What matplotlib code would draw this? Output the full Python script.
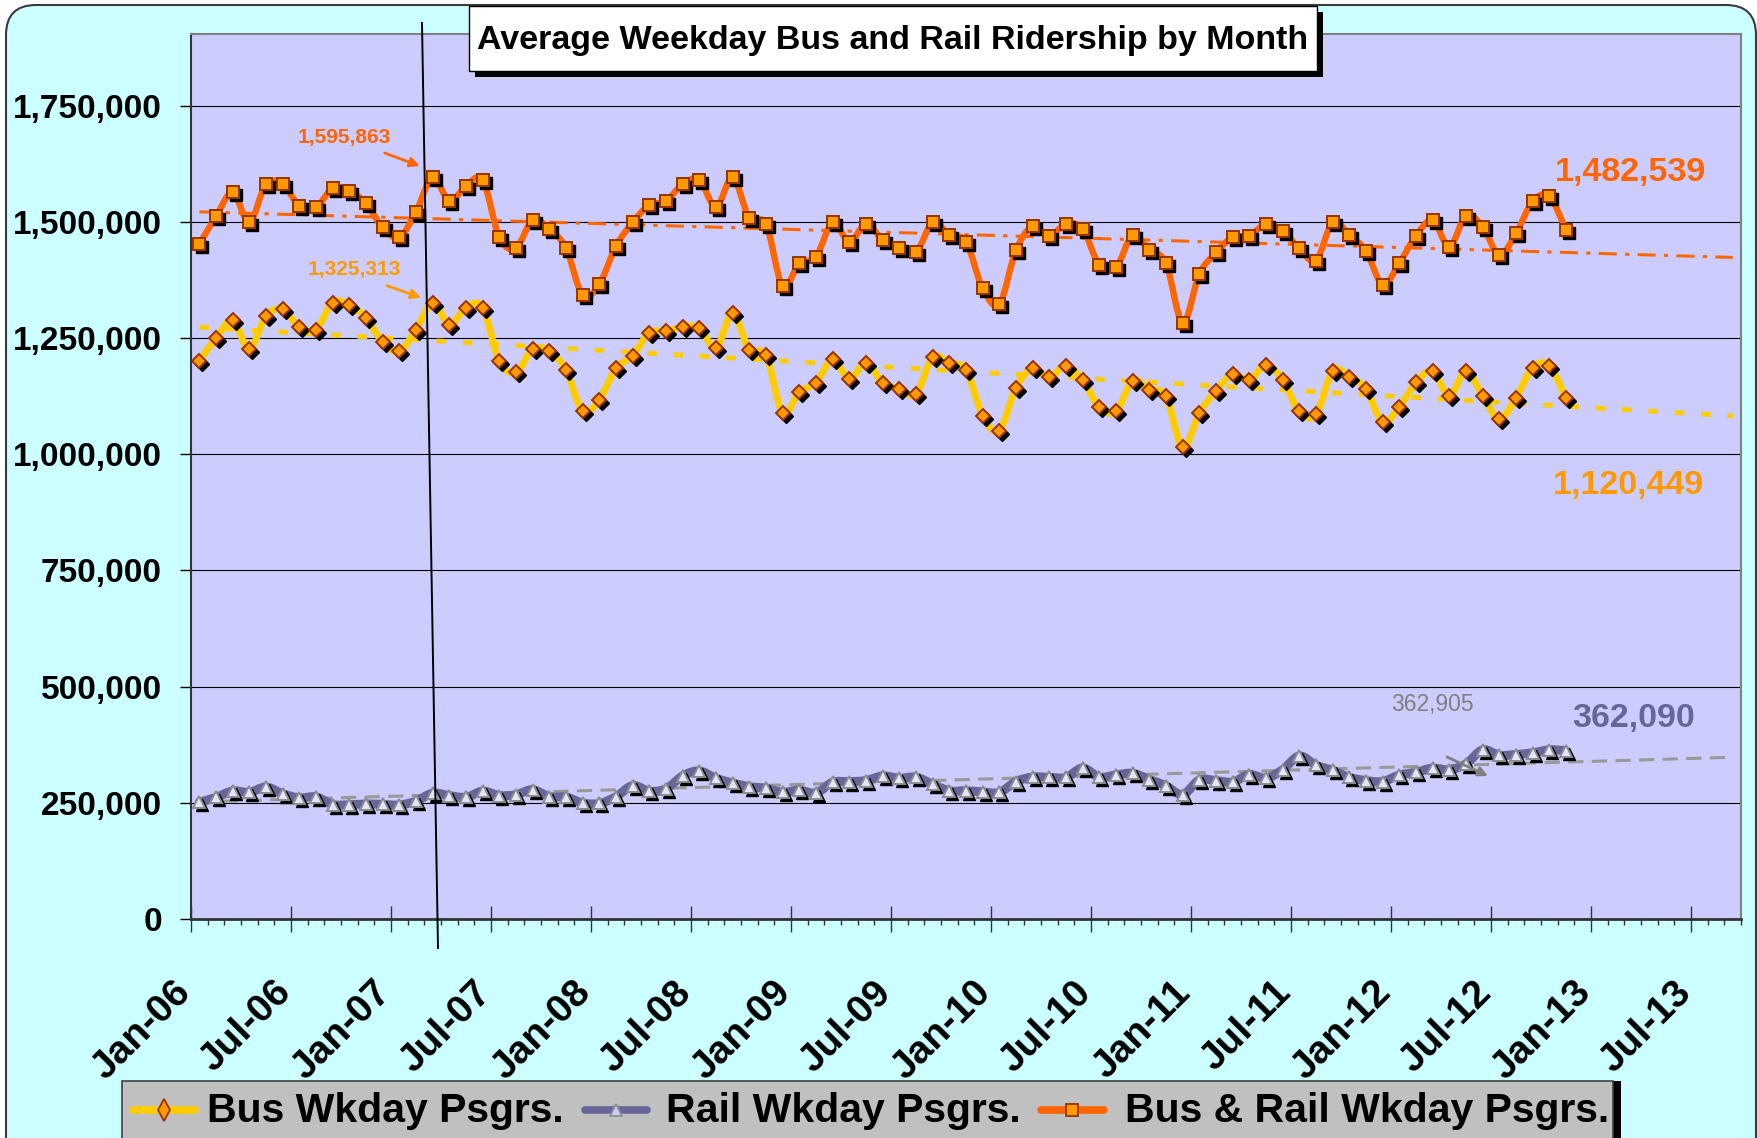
import numpy as np
import matplotlib
matplotlib.use('Agg')
import matplotlib.pyplot as plt
from matplotlib.patches import Rectangle, FancyBboxPatch, PathPatch
from matplotlib.path import Path
from matplotlib.lines import Line2D
from matplotlib.transforms import IdentityTransform, offset_copy

plt.rcParams['font.family'] = ['Liberation Sans', 'DejaVu Sans']
plt.rcParams['lines.scale_dashes'] = False

# ---------------- data ----------------
title = "Average Weekday Bus and Rail Ridership by Month"
tick_labels = ["Jan-06", "Jul-06", "Jan-07", "Jul-07", "Jan-08", "Jul-08",
               "Jan-09", "Jul-09", "Jan-10", "Jul-10", "Jan-11", "Jul-11",
               "Jan-12", "Jul-12", "Jan-13", "Jul-13"]
yticks = [0, 250000, 500000, 750000, 1000000, 1250000, 1500000, 1750000]

bus = [1200700, 1250000, 1287700, 1226100, 1297100, 1311600, 1273900, 1268100,
       1326100, 1321000, 1292000, 1241300, 1221000, 1268100, 1325313, 1279000,
       1315200, 1315200, 1200700, 1176000, 1226100, 1221000, 1181100, 1092000,
       1117300, 1184700, 1211600, 1260900, 1264500, 1273200, 1271800, 1228200,
       1302900, 1223200, 1213700, 1088300, 1134000, 1153600, 1204300, 1161500,
       1197100, 1153600, 1140500, 1128900, 1208700, 1195600, 1181100, 1083200,
       1050600, 1143400, 1184700, 1165200, 1190500, 1159400, 1101400, 1092000,
       1157900, 1139100, 1124600, 1014400, 1088300, 1136200, 1171700, 1159400,
       1192000, 1159400, 1092000, 1085400, 1179000, 1166600, 1139800, 1068700,
       1101400, 1154300, 1179000, 1125300, 1179000, 1125300, 1076000, 1121000,
       1186200, 1190500, 1120449]

rail = [251300, 261500, 275400, 272500, 283900, 269400, 260500, 262700,
        246300, 245700, 247400, 246500, 245300, 253400, 270550, 265500,
        261500, 275100, 265600, 267400, 278200, 263200, 262300, 249500,
        248600, 263000, 287000, 275000, 280000, 307800, 318500, 302600,
        292500, 284700, 281300, 272600, 277100, 271100, 294300, 295500,
        297900, 307700, 302900, 305100, 289900, 275700, 275900, 273400,
        272300, 295700, 305300, 304700, 304500, 324800, 305400, 309800,
        313400, 300000, 286500, 267600, 299100, 297800, 294600, 310500,
        303000, 321200, 350600, 330700, 319600, 304700, 297800, 295800,
        309700, 315600, 324600, 320900, 333900, 363900, 352300, 353900,
        357500, 364000, 362090]

total = [1452000, 1511500, 1563100, 1498600, 1581000, 1581000, 1534400, 1530800,
         1572400, 1566700, 1539400, 1487800, 1466300, 1521500, 1595863, 1544500,
         1576700, 1590300, 1466300, 1443400, 1504300, 1484200, 1443400, 1341500,
         1365900, 1447700, 1498600, 1535900, 1544500, 1581000, 1590300, 1530800,
         1595400, 1507900, 1495000, 1360900, 1411100, 1424700, 1498600, 1457000,
         1495000, 1461300, 1443400, 1434000, 1498600, 1471300, 1457000, 1356600,
         1322900, 1439100, 1490000, 1469900, 1495000, 1484200, 1406800, 1401800,
         1471300, 1439100, 1411100, 1282000, 1387400, 1434000, 1466300, 1469900,
         1495000, 1480600, 1442600, 1416100, 1498600, 1471300, 1437600, 1364500,
         1411100, 1469900, 1503600, 1446200, 1512900, 1489200, 1428300, 1474900,
         1543700, 1554500, 1482539]

# linear trendlines (start / end)
trend_x = [0.5, 92.5]
total_trend = [1521500, 1423300]
bus_trend = [1273200, 1082500]
rail_trend = [252000, 348000]

# ---------------- figure ----------------
W, H, DPI = 1758, 1138, 100
fig = plt.figure(figsize=(W / DPI, H / DPI), dpi=DPI)
fig.patch.set_facecolor('white')


def fx(x):
    return x / W


def fy(y):
    return 1 - y / H


# rounded cyan panel
panel = FancyBboxPatch((6, -40), 1750, H - 5 + 40, boxstyle='round,pad=0,rounding_size=30',
                       transform=IdentityTransform(), fc='#CCFFFF', ec='#3a3a3a', lw=1.5, zorder=0)
fig.add_artist(panel)

ax = fig.add_axes([191 / W, 1 - 919 / H, 1550 / W, 885 / H])
ax.set_facecolor('#CCCCFF')
ax.set_xlim(0, 93)
ax.set_ylim(0, 1904000)

x = np.arange(len(bus)) + 0.5


def smooth_path(xs, ys):
    n = len(xs)
    verts = [(xs[0], ys[0])]
    codes = [Path.MOVETO]
    for i in range(n - 1):
        x0, y0 = xs[max(i - 1, 0)], ys[max(i - 1, 0)]
        x1, y1 = xs[i], ys[i]
        x2, y2 = xs[i + 1], ys[i + 1]
        x3, y3 = xs[min(i + 2, n - 1)], ys[min(i + 2, n - 1)]
        verts += [(x1 + (x2 - x0) / 6, y1 + (y2 - y0) / 6),
                  (x2 - (x3 - x1) / 6, y2 - (y3 - y1) / 6),
                  (x2, y2)]
        codes += [Path.CURVE4] * 3
    return Path(verts, codes)


shadow_tr = offset_copy(ax.transData, fig=fig, x=3, y=-3, units='dots')

series = [
    (bus, '#FFCC00', 5.0, 'D', 7.3, '#FF9900', '#993300'),
    (rail, '#666699', 6.5, '^', 9.0, '#E4E4FF', '#8C8C8C'),
    (total, '#FF6600', 4.6, 's', 8.0, '#FF9900', '#993300'),
]

# trend lines
ax.plot(trend_x, total_trend, color='#FF6600', lw=2.2, ls=(0, (13, 6, 3, 6)), zorder=2)
ax.plot(trend_x, bus_trend, color='#FFCC00', lw=3.5, ls=(0, (7, 12)), zorder=2)
ax.plot(trend_x, rail_trend, color='#999999', lw=2.2, ls=(0, (11, 6)), zorder=2)

for k, (vals, lc, lw, mk, ms, mfc, mec) in enumerate(series):
    zb = 3 + k * 3
    ax.add_patch(PathPatch(smooth_path(x, vals), fc='none', ec=lc, lw=lw,
                           capstyle='round', joinstyle='round', zorder=zb))
    ax.plot(x, vals, ls='none', marker=mk, ms=ms, mfc='black', mec='black',
            mew=1.0, transform=shadow_tr, zorder=zb + 1)
    ax.plot(x, vals, ls='none', marker=mk, ms=ms, mfc=mfc, mec=mec, mew=1.4, zorder=zb + 2)

# axes styling
ax.set_yticks(yticks, labels=[f"{v:,}" for v in yticks], fontsize=24, fontweight='bold')
ax.grid(axis='y', color='black', lw=0.8, zorder=1)
ax.set_axisbelow(True)
ax.tick_params(axis='y', direction='out', length=8, width=1, pad=13, colors='black')

major = list(range(0, 91, 6))
ax.set_xticks(major)
ax.set_xticks(np.arange(0, 94, 1), minor=True)
ax.tick_params(axis='x', which='major', direction='inout', length=18.7, width=1,
               labelbottom=False, color='#333333')
ax.tick_params(axis='x', which='minor', direction='out', length=4.3, width=1, color='#333333')
for m, lab in zip(major, tick_labels):
    ax.annotate(lab, xy=(m, 0), xycoords=('data', 'axes fraction'), xytext=(-4.0, -49),
                textcoords='offset points', rotation=45, rotation_mode='anchor',
                ha='right', va='center', fontsize=28, fontweight='bold',
                annotation_clip=False)

ax.spines['left'].set_color('#333333')
ax.spines['left'].set_linewidth(1.5)
ax.spines['bottom'].set_color('#333333')
ax.spines['bottom'].set_linewidth(2)
for s in ('top', 'right'):
    ax.spines[s].set_color('#808080')
    ax.spines[s].set_linewidth(1.5)

# title box
fig.add_artist(Rectangle((475, H - 77), 848, 65, transform=IdentityTransform(),
                         fc='black', ec='none', zorder=20))
fig.add_artist(Rectangle((469, H - 71), 848, 65, transform=IdentityTransform(),
                         fc='white', ec='black', lw=1, zorder=21))
fig.text(fx(893), fy(49.5), title, ha='center', va='baseline', fontsize=24.5,
         fontweight='bold', zorder=22)

# slanted vertical marker line
fig.add_artist(Line2D([fx(422), fx(438)], [fy(23), fy(948)], color='black', lw=1.4,
                      transform=fig.transFigure, zorder=15))

# annotations
fig.text(fx(344), fy(142.7), "1,595,863", color='#FF6600', fontsize=15,
         fontweight='bold', ha='center', va='baseline', zorder=16)
fig.text(fx(354.5), fy(275), "1,325,313", color='#FF9900', fontsize=15,
         fontweight='bold', ha='center', va='baseline', zorder=16)
fig.text(fx(1630.5), fy(181), "1,482,539", color='#FF6600', fontsize=24.5,
         fontweight='bold', ha='center', va='baseline', zorder=16)
fig.text(fx(1628.5), fy(494), "1,120,449", color='#FF9900', fontsize=24.5,
         fontweight='bold', ha='center', va='baseline', zorder=16)
fig.text(fx(1432.5), fy(710.7), "362,905", color='#808080', fontsize=16.5,
         ha='center', va='baseline', zorder=16)
fig.text(fx(1633.5), fy(726.7), "362,090", color='#666699', fontsize=24.5,
         fontweight='bold', ha='center', va='baseline', zorder=16)

for tail, tip, col in [((384.6, 153), (419.8, 166), '#FF6600'),
                       ((387, 285.7), (421, 297.7), '#FF9900'),
                       ((1447, 757), (1488, 776), '#808080')]:
    fig.add_artist(matplotlib.text.Annotation(
        '', xy=(tip[0], H - tip[1]), xytext=(tail[0], H - tail[1]),
        xycoords='figure pixels', textcoords='figure pixels',
        arrowprops=dict(arrowstyle='-|>', color=col, lw=2, mutation_scale=14,
                        shrinkA=0, shrinkB=0), zorder=16))

# legend
fig.add_artist(Rectangle((130, H - 1158), 1491, 77, transform=IdentityTransform(),
                         fc='black', ec='none', zorder=20))
fig.add_artist(Rectangle((122, H - 1150), 1491, 69, transform=IdentityTransform(),
                         fc='#C0C0C0', ec='#404040', lw=1.2, zorder=21))
leg_items = [
    (133, 195, 206.7, 'Bus Wkday Psgrs.', '#FFCC00', 'd', 11, '#FF9900', '#993300'),
    (585.5, 647.5, 666, 'Rail Wkday Psgrs.', '#666699', '^', 9, '#CCCCFF', '#8C8C8C'),
    (1041, 1103.6, 1125, 'Bus & Rail Wkday Psgrs.', '#FF6600', 's', 8, '#FF9900', '#993300'),
]
for x0, x1, tx, lab, lc, mk, ms, mfc, mec in leg_items:
    fig.add_artist(Line2D([fx(x0), fx(x1)], [fy(1110)] * 2, color=lc, lw=5.5,
                          solid_capstyle='round', transform=fig.transFigure, zorder=22))
    fig.add_artist(Line2D([fx((x0 + x1) / 2)], [fy(1110)], ls='none', marker=mk, ms=ms,
                          mfc=mfc, mec=mec, mew=1.3, transform=fig.transFigure, zorder=23))
    fig.text(fx(tx), fy(1121.7), lab, fontsize=29.5, fontweight='bold', ha='left',
             va='baseline', zorder=23)

fig.savefig('out.png', dpi=DPI, facecolor=fig.get_facecolor())
